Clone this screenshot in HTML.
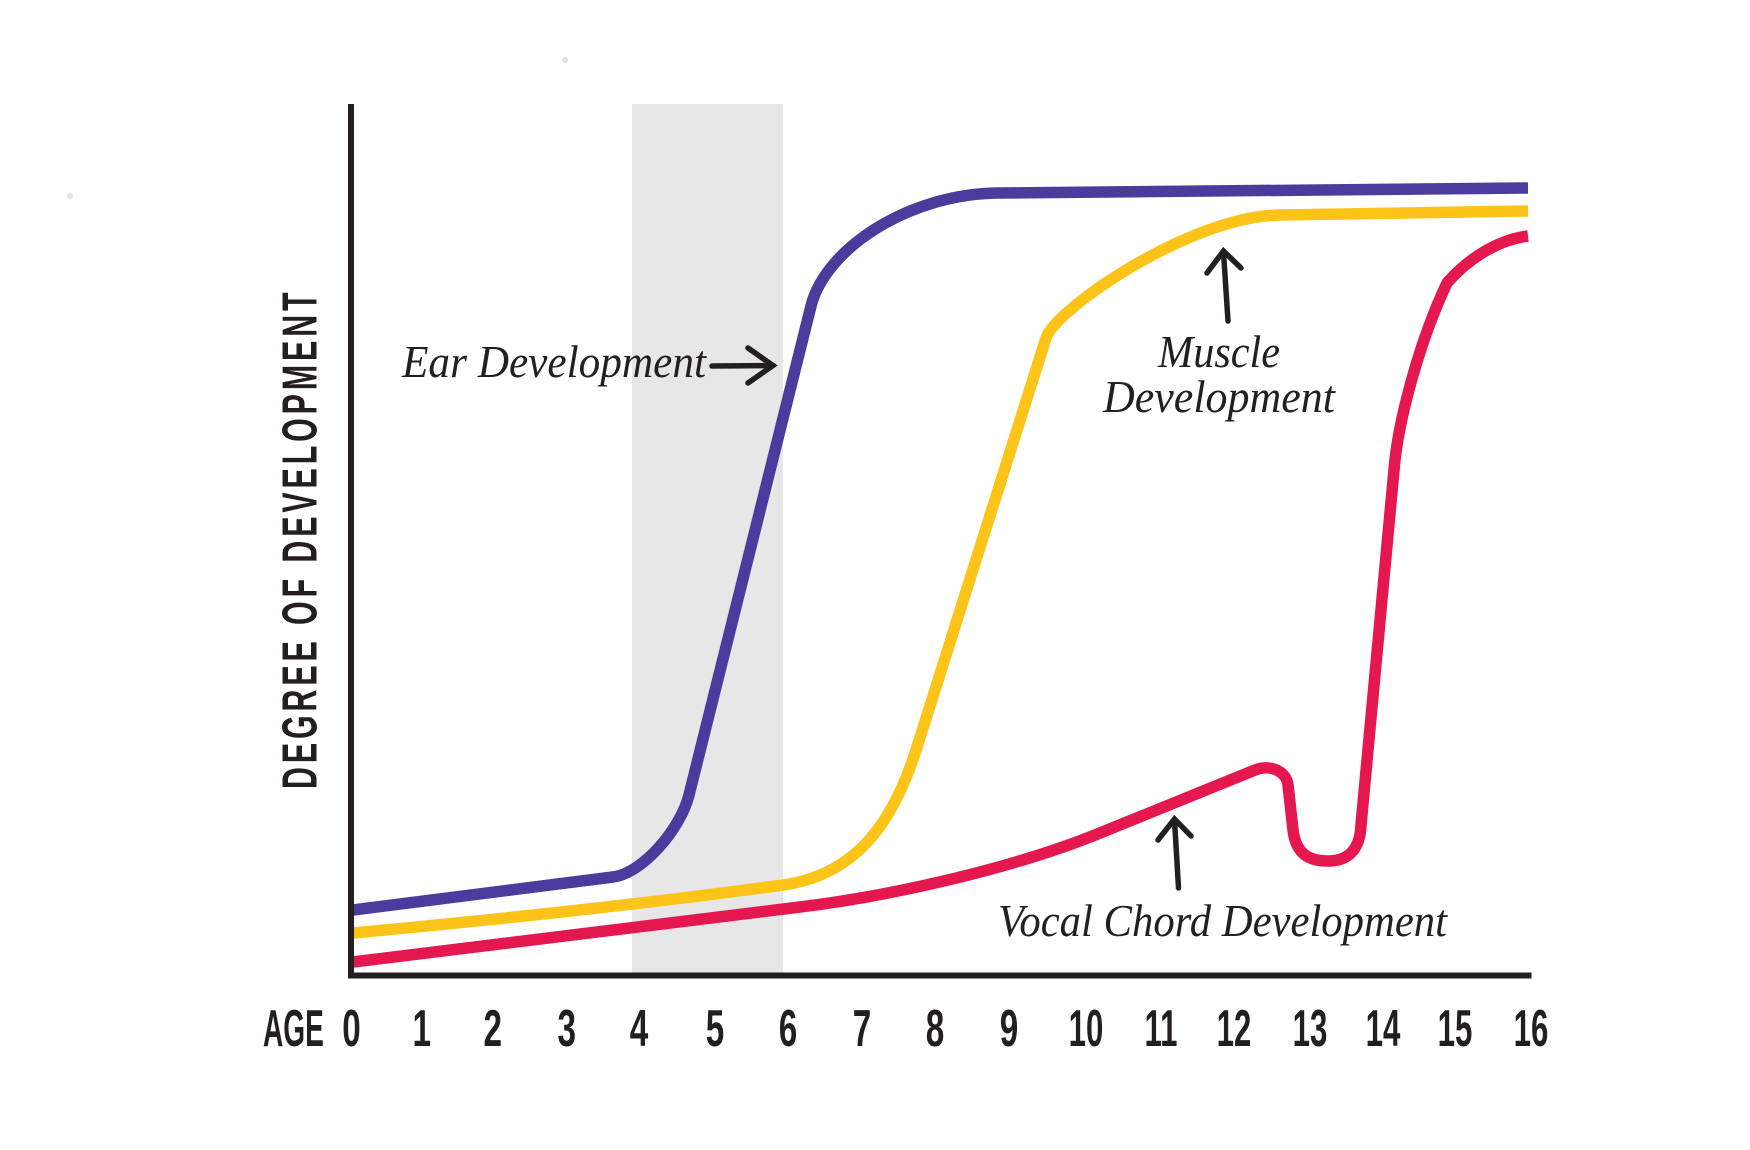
<!DOCTYPE html>
<html>
<head>
<meta charset="utf-8">
<style>
  html, body { margin: 0; padding: 0; background: #ffffff; }
  body { width: 1750px; height: 1150px; overflow: hidden; }
  svg { display: block; }
  .lab { font-family: "Liberation Serif", serif; font-style: italic; font-size: 46px; fill: #231f20; }
  .tick { font-family: "Liberation Sans", sans-serif; font-weight: bold; font-size: 52px; fill: #231f20; }
  .ytitle { font-family: "Liberation Sans", sans-serif; font-weight: bold; font-size: 49px; fill: #231f20; }
</style>
</head>
<body>
<svg width="1750" height="1150" viewBox="0 0 1750 1150" xmlns="http://www.w3.org/2000/svg">
  <rect x="0" y="0" width="1750" height="1150" fill="#ffffff"/>

  <!-- faint specks -->
  <circle cx="565" cy="60" r="3" fill="#e2e2e2"/>
  <circle cx="70" cy="196" r="3" fill="#e6e6e6"/>

  <!-- gray band -->
  <rect x="632" y="104" width="151" height="870" fill="#e7e7e7"/>

  <!-- curves -->
  <g fill="none" stroke-width="11.5" stroke-linejoin="round" stroke-linecap="butt">
    <!-- pink: vocal chord -->
    <path stroke="#e5174f" d="M353,962 L800,907 C900,894.7 1020,865.8 1100,833 L1255,770
      C1269.8,764 1286.5,771 1288,785 L1293,830
      C1296,855 1310,861 1328,861 C1348,861 1360,850 1361,825
      L1394,470 C1398,420 1420,340 1447,283 C1465,262 1495,240 1528,236"/>
    <!-- yellow: muscle -->
    <path stroke="#fcc419" d="M353,933 Q600,910 783,885 C862,874 896,813.8 917,747 L1046,338
      C1055,309.4 1190,216 1280,215 L1528,211"/>
    <!-- blue: ear -->
    <path stroke="#4a3b9c" d="M353,910 L613,877 C642.8,873.2 680.5,829 689,795 L811,306
      C825.6,248 910,193 1000,193 L1528,188"/>
  </g>

  <!-- axes -->
  <rect x="348" y="104" width="6" height="874.5" fill="#231f20"/>
  <rect x="348" y="972.5" width="1183.5" height="6" fill="#231f20"/>

  <!-- arrows -->
  <g fill="none" stroke="#231f20" stroke-width="5.5" stroke-linecap="round" stroke-linejoin="miter">
    <!-- ear arrow -->
    <line x1="712" y1="366" x2="772" y2="365.5"/>
    <polyline points="748,348 773,365.5 748,383"/>
    <!-- muscle arrow -->
    <line x1="1228" y1="321" x2="1223.5" y2="252"/>
    <polyline points="1207,273 1223.5,251 1241,268"/>
    <!-- vocal arrow -->
    <line x1="1178.5" y1="888" x2="1174.5" y2="820"/>
    <polyline points="1158,840 1174.5,819 1191,836"/>
  </g>

  <!-- annotation labels -->
  <text class="lab" x="402" y="377" textLength="304" lengthAdjust="spacingAndGlyphs">Ear Development</text>
  <text class="lab" x="1158" y="367" textLength="122" lengthAdjust="spacingAndGlyphs">Muscle</text>
  <text class="lab" x="1103" y="412" textLength="232" lengthAdjust="spacingAndGlyphs">Development</text>
  <text class="lab" x="998" y="936" textLength="449" lengthAdjust="spacingAndGlyphs">Vocal Chord Development</text>

  <!-- y axis title -->
  <g transform="translate(316.5,789) rotate(-90) scale(0.62,1)">
    <text class="ytitle" x="0" y="0" textLength="801" lengthAdjust="spacing">DEGREE OF DEVELOPMENT</text>
  </g>

  <!-- x axis labels -->
  <g transform="translate(263,1046) scale(0.54,1)"><text class="tick" x="0" y="0">AGE</text></g>
  <g transform="translate(351.5,1046) scale(0.64,1)"><text class="tick" x="0" y="0" text-anchor="middle">0</text></g>
  <g transform="translate(421.7,1046) scale(0.64,1)"><text class="tick" x="0" y="0" text-anchor="middle">1</text></g>
  <g transform="translate(492.8,1046) scale(0.64,1)"><text class="tick" x="0" y="0" text-anchor="middle">2</text></g>
  <g transform="translate(566.7,1046) scale(0.64,1)"><text class="tick" x="0" y="0" text-anchor="middle">3</text></g>
  <g transform="translate(639,1046) scale(0.64,1)"><text class="tick" x="0" y="0" text-anchor="middle">4</text></g>
  <g transform="translate(715,1046) scale(0.64,1)"><text class="tick" x="0" y="0" text-anchor="middle">5</text></g>
  <g transform="translate(788,1046) scale(0.64,1)"><text class="tick" x="0" y="0" text-anchor="middle">6</text></g>
  <g transform="translate(862,1046) scale(0.64,1)"><text class="tick" x="0" y="0" text-anchor="middle">7</text></g>
  <g transform="translate(935,1046) scale(0.64,1)"><text class="tick" x="0" y="0" text-anchor="middle">8</text></g>
  <g transform="translate(1009,1046) scale(0.64,1)"><text class="tick" x="0" y="0" text-anchor="middle">9</text></g>
  <g transform="translate(1086,1046) scale(0.6,1)"><text class="tick" x="0" y="0" text-anchor="middle">10</text></g>
  <g transform="translate(1161,1046) scale(0.6,1)"><text class="tick" x="0" y="0" text-anchor="middle">11</text></g>
  <g transform="translate(1234,1046) scale(0.6,1)"><text class="tick" x="0" y="0" text-anchor="middle">12</text></g>
  <g transform="translate(1310,1046) scale(0.6,1)"><text class="tick" x="0" y="0" text-anchor="middle">13</text></g>
  <g transform="translate(1383,1046) scale(0.6,1)"><text class="tick" x="0" y="0" text-anchor="middle">14</text></g>
  <g transform="translate(1455,1046) scale(0.6,1)"><text class="tick" x="0" y="0" text-anchor="middle">15</text></g>
  <g transform="translate(1531,1046) scale(0.6,1)"><text class="tick" x="0" y="0" text-anchor="middle">16</text></g>
</svg>
</body>
</html>
